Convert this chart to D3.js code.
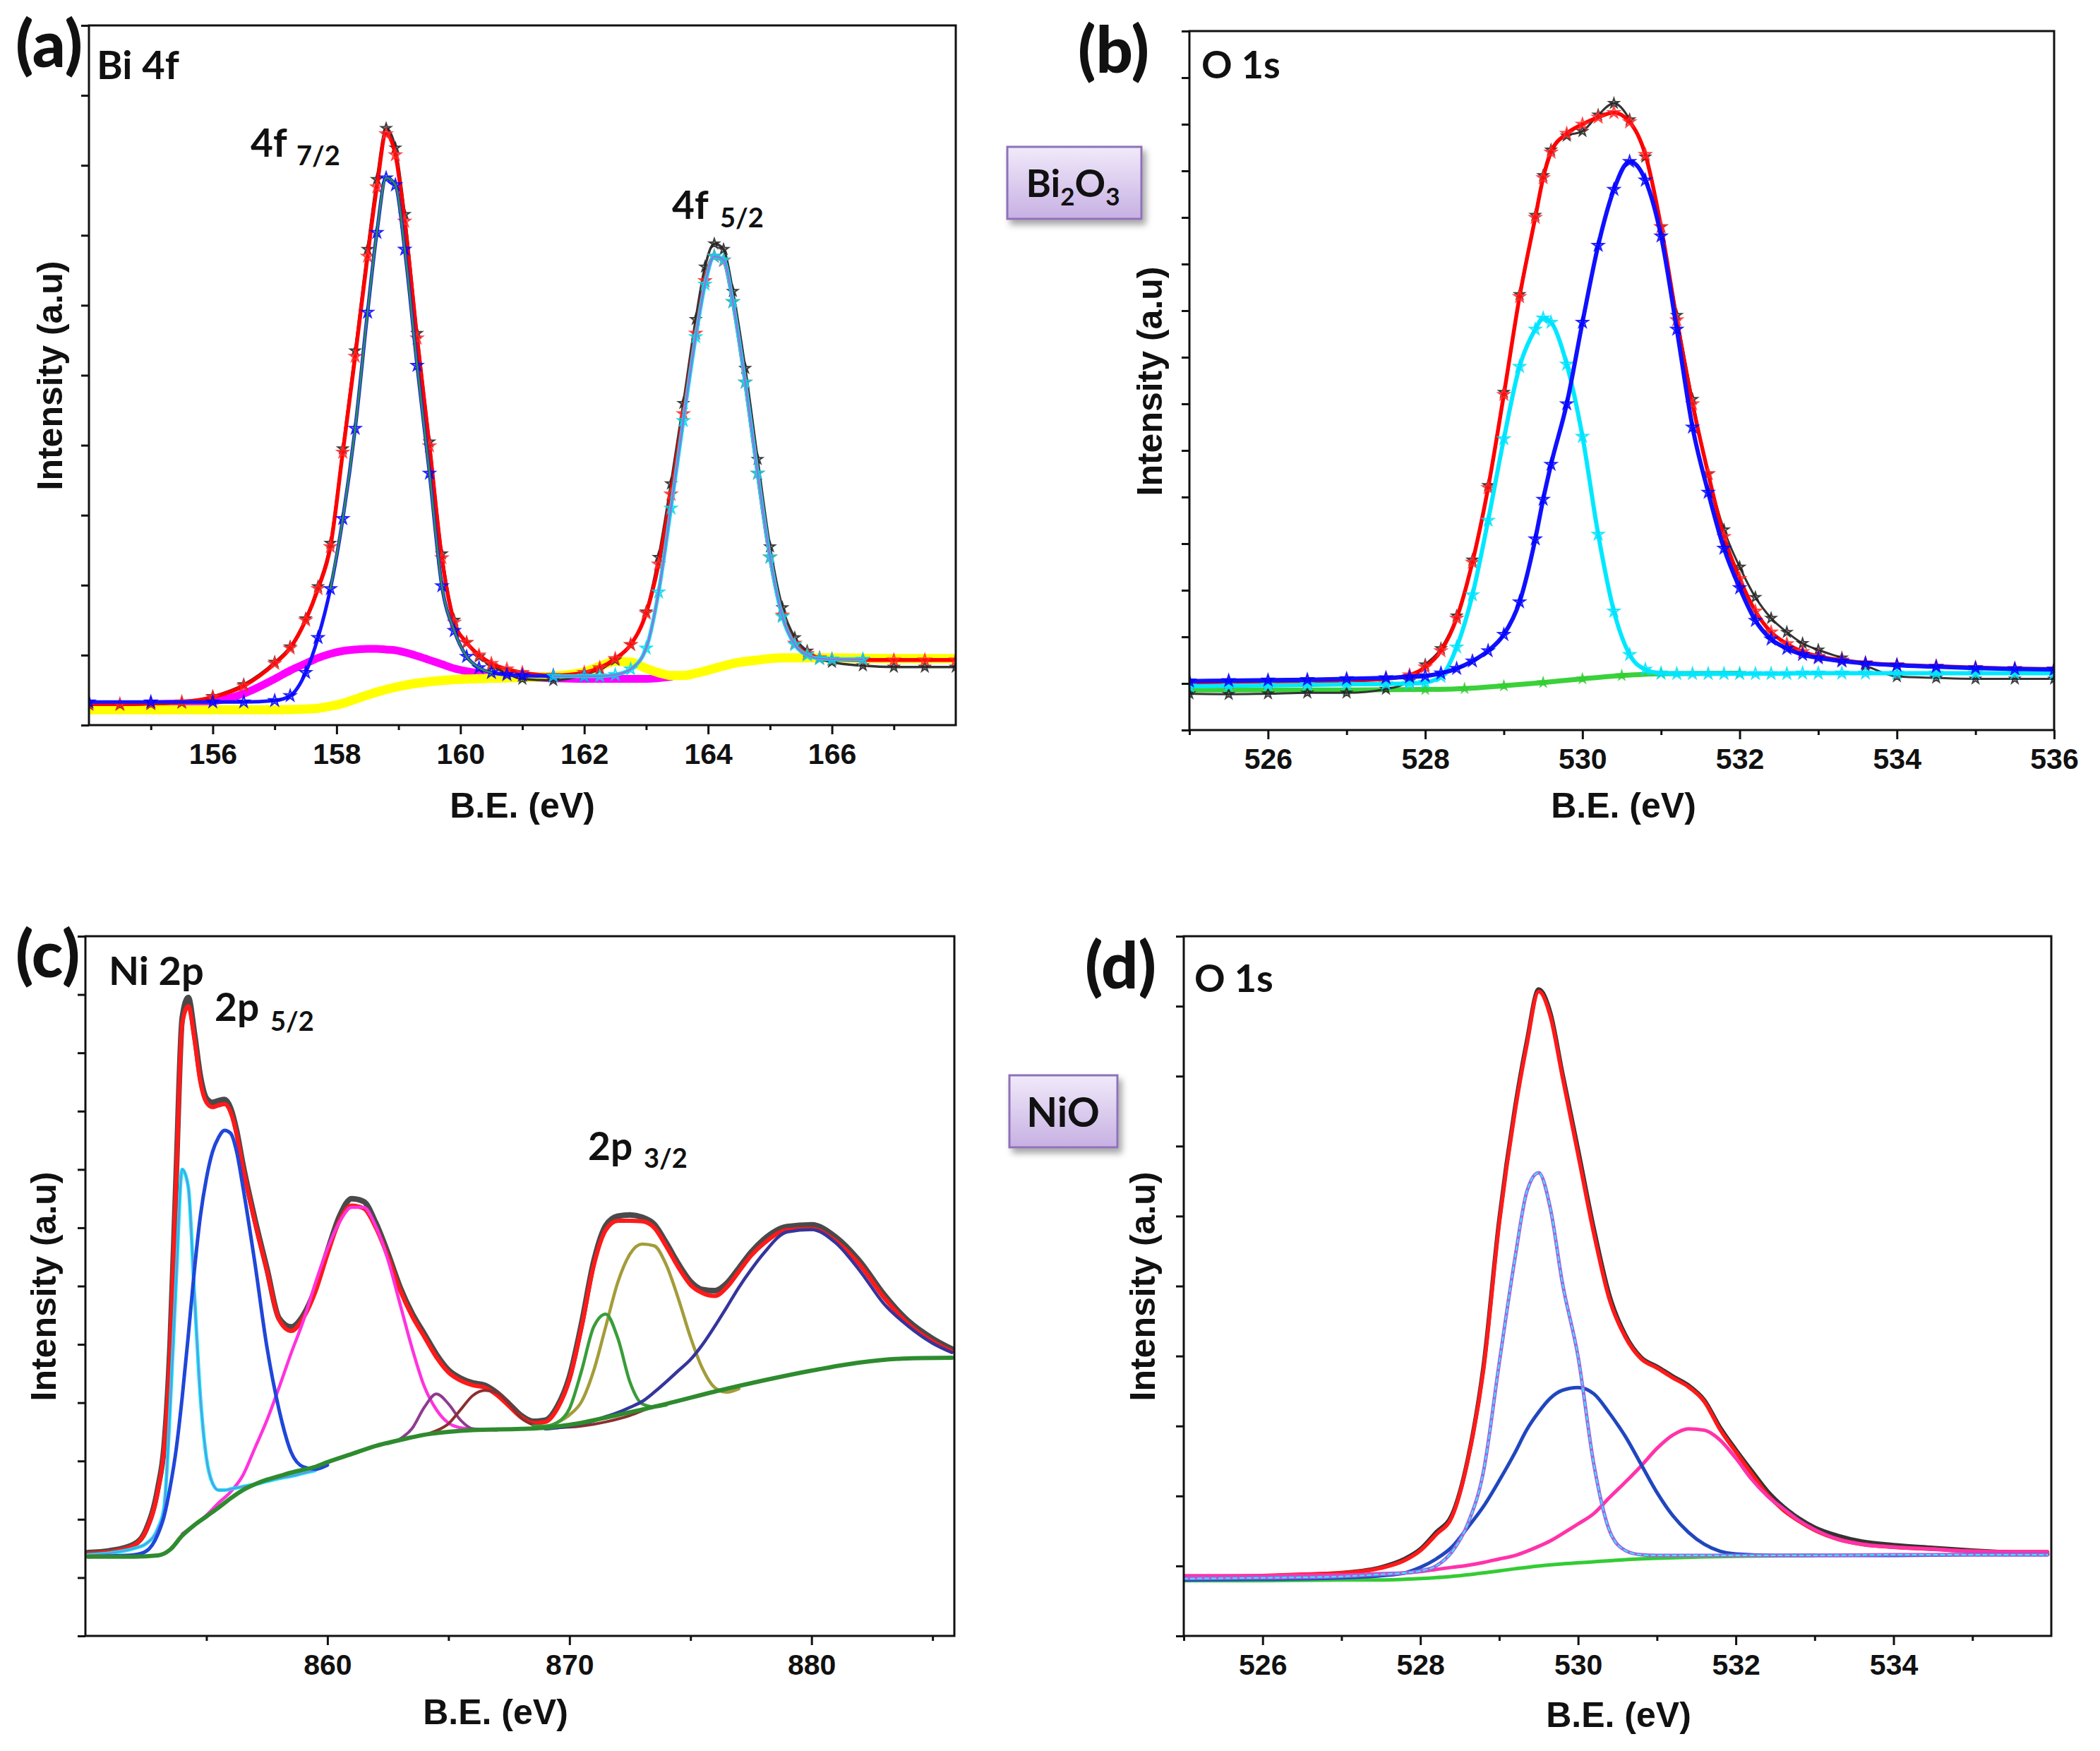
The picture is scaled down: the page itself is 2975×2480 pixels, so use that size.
<!DOCTYPE html>
<html><head><meta charset="utf-8">
<script src="https://cdn.jsdelivr.net/npm/d3@7"></script>
<style>body{margin:0;background:#fff}</style>
</head><body>
<svg id="chart" width="2975" height="2480"></svg>
<script>
// ---------------- DATA ----------------
// (a) Bi 4f
const aX = [154,154.5,155,155.5,156,156.5,157,157.25,157.5,157.7,
157.9,158.1,158.3,158.5,158.65,158.8,158.95,159.1,159.3,159.5,
159.7,159.9,160.1,160.3,160.5,160.75,161,161.5,162,162.25,
162.5,162.75,163,163.2,163.4,163.6,163.8,163.95,164.1,164.25,
164.4,164.6,164.8,165,165.2,165.4,165.6,165.8,166,166.5,
167,167.5,168];
const aData = [0.29,0.29,0.3,0.32,0.41,0.58,0.9,1.12,1.52,1.98,
2.6,3.95,5.35,6.8,7.8,8.53,8.25,7.3,5.6,4.05,
2.45,1.5,1.18,0.98,0.85,0.74,0.66,0.64,0.72,0.8,
0.93,1.15,1.62,2.4,3.45,4.6,5.8,6.55,6.88,6.8,
6.2,5.1,3.8,2.55,1.68,1.25,1.06,0.95,0.9,0.85,
0.83,0.83,0.83];
const aFit = [0.3,0.3,0.31,0.33,0.4,0.56,0.88,1.1,1.5,1.95,
2.55,3.9,5.27,6.7,7.69,8.45,8.15,7.2,5.53,3.99,
2.39,1.47,1.18,1.0,0.88,0.8,0.75,0.71,0.75,0.82,
0.95,1.15,1.6,2.3,3.3,4.45,5.6,6.35,6.7,6.64,
6.05,4.9,3.6,2.4,1.57,1.17,1.02,0.96,0.94,0.93,
0.93,0.93,0.93];
const aPeak72 = [[154,0.33],[155,0.33],[156,0.33],[156.5,0.33],[157,0.35],[157.25,0.42],[157.5,0.75],[157.7,1.25],[157.9,1.95],[158.1,2.95],[158.3,4.24],[158.5,5.9],[158.65,7.04],[158.8,7.82],[158.95,7.72],[159.1,6.8],[159.3,5.14],[159.5,3.6],[159.7,1.99],[159.9,1.35],[160.1,0.98],[160.3,0.82],[160.5,0.75],[160.75,0.72],[161,0.71],[161.5,0.7],[162,0.7]];
const aPeak52 = [[161.5,0.7],[162,0.7],[162.25,0.7],[162.5,0.72],[162.75,0.8],[163,1.1],[163.2,1.9],[163.4,3.1],[163.6,4.35],[163.8,5.55],[163.95,6.3],[164.1,6.7],[164.25,6.65],[164.4,6.05],[164.6,4.9],[164.8,3.6],[165,2.4],[165.2,1.55],[165.4,1.15],[165.6,1.0],[165.8,0.95],[166,0.94],[166.5,0.94]];
const aHump = [[154,0.29],[154.5,0.29],[155,0.3],[155.5,0.31],[156,0.34],[156.5,0.45],[157,0.66],[157.25,0.78],[157.5,0.88],[157.7,0.96],[157.9,1.02],[158.1,1.06],[158.3,1.08],[158.5,1.09],[158.65,1.09],[158.8,1.08],[158.95,1.07],[159.1,1.04],[159.3,0.99],[159.5,0.93],[159.7,0.87],[159.9,0.81],[160.1,0.77],[160.3,0.74],[160.5,0.72],[160.75,0.7],[161,0.69],[161.5,0.67],[162,0.66],[162.5,0.66],[163,0.66],[163.4,0.69]];
const aBackground = [[154,0.22],[155,0.22],[156,0.22],[157,0.22],[157.5,0.23],[157.7,0.24],[157.9,0.27],[158.1,0.31],[158.3,0.37],[158.5,0.43],[158.8,0.51],[159.1,0.57],[159.5,0.62],[159.9,0.65],[160.5,0.67],[161,0.68],[161.5,0.7],[162,0.76],[162.25,0.84],[162.5,0.91],[162.75,0.9],[163,0.81],[163.2,0.75],[163.4,0.71],[163.6,0.71],[163.8,0.74],[164.1,0.81],[164.4,0.88],[164.8,0.93],[165.2,0.96],[166,0.96],[167,0.95],[168,0.95]];
const aMajorTicks = [156,158,160,162,164,166];
const aMinorTicks = [155,157,159,161,163,165,167];

// (b) O 1s, Bi2O3
const bX = [525,525.5,526,526.5,527,527.5,527.8,528,528.2,528.4,
528.6,528.8,529,529.2,529.4,529.5,529.6,529.8,530,530.2,
530.4,530.6,530.8,531,531.2,531.4,531.6,531.8,532,532.2,
532.4,532.6,532.8,533,533.3,533.6,534,534.5,535,535.5,
536];
const bData = [0.78,0.77,0.78,0.8,0.8,0.88,1.05,1.4,1.75,2.45,
3.65,5.25,7.25,9.35,11.05,11.9,12.45,12.75,12.85,13.2,
13.45,13.1,12.3,10.8,8.9,7.1,5.5,4.3,3.5,2.85,
2.4,2.1,1.86,1.72,1.55,1.38,1.15,1.12,1.1,1.1,
1.1];
const bFit = [1.02,1.02,1.03,1.04,1.06,1.1,1.18,1.35,1.7,2.4,
3.6,5.2,7.2,9.3,11.0,11.85,12.4,12.8,13.0,13.15,
13.25,13.05,12.35,10.8,8.8,7.0,5.5,4.15,3.25,2.55,
2.1,1.85,1.68,1.58,1.5,1.44,1.4,1.37,1.34,1.32,
1.31];
const bPeakHigh = [1.05,1.06,1.07,1.08,1.1,1.12,1.14,1.16,1.22,1.32,
1.48,1.7,2.05,2.75,4.1,4.95,5.7,7.0,8.75,10.4,
11.6,12.2,11.8,10.6,8.6,6.5,5.1,3.9,3.05,2.35,
1.95,1.75,1.62,1.55,1.48,1.43,1.39,1.36,1.33,1.31,
1.3];
const bPeakLow = [0.94,0.95,0.96,0.97,0.98,0.99,1.0,1.02,1.15,1.78,
2.9,4.5,6.25,7.8,8.6,8.84,8.75,7.85,6.3,4.2,
2.55,1.62,1.3,1.22,1.21,1.21,1.21,1.21,1.21,1.21,
1.21,1.21,1.22,1.22,1.22,1.22,1.22,1.22,1.22,1.22,
1.22];
const bBackground = [[525,0.86],[527,0.86],[528,0.87],[528.5,0.89],[529,0.95],[529.5,1.02],[530,1.1],[530.5,1.17],[531,1.21],[532,1.22]];
const bMajorTicks = [526,528,530,532,534,536];
const bMinorTicks = [525,527,529,531,533,535];

// (c) Ni 2p
const cData = [[850.1,1.43],[851,1.46],[852,1.57],[852.5,1.82],[853,2.55],[853.25,3.25],[853.5,5.0],[853.75,7.9],[854,10.6],[854.25,10.95],[854.5,10.35],[854.75,9.6],[855,9.22],[855.25,9.15],[855.5,9.18],[855.75,9.2],[856,9.05],[856.25,8.66],[856.5,8.1],[857,7.15],[857.5,6.3],[858,5.45],[858.5,5.3],[859,5.5],[859.5,5.95],[860,6.6],[860.5,7.2],[861,7.5],[861.5,7.45],[862,7.08],[862.5,6.56],[863,5.98],[863.5,5.53],[864,5.18],[864.5,4.83],[865,4.56],[865.5,4.42],[866,4.34],[866.5,4.3],[867,4.17],[867.5,3.98],[868,3.78],[868.5,3.68],[869,3.7],[869.5,3.94],[870,4.45],[870.5,5.36],[871,6.42],[871.5,7.04],[872,7.2],[872.5,7.22],[873,7.18],[873.5,7.06],[874,6.74],[874.5,6.38],[875,6.08],[875.5,5.94],[876,5.92],[876.5,6.05],[877,6.31],[877.5,6.58],[878,6.79],[879,7.02],[880,7.05],[881,6.84],[882,6.42],[883,5.85],[884,5.4],[885,5.1],[885.8,4.92]];
const cFit = [[850.1,1.41],[851,1.44],[852,1.55],[852.5,1.8],[853,2.5],[853.25,3.2],[853.5,4.9],[853.75,7.8],[854,10.5],[854.25,10.8],[854.5,10.25],[854.75,9.5],[855,9.15],[855.25,9.07],[855.5,9.1],[855.75,9.12],[856,8.98],[856.25,8.6],[856.5,8.05],[857,7.1],[857.5,6.26],[858,5.42],[858.5,5.23],[859,5.45],[859.5,5.9],[860,6.55],[860.5,7.12],[861,7.38],[861.5,7.33],[862,7.0],[862.5,6.5],[863,5.93],[863.5,5.48],[864,5.13],[864.5,4.78],[865,4.52],[865.5,4.38],[866,4.3],[866.5,4.26],[867,4.13],[867.5,3.94],[868,3.75],[868.5,3.65],[869,3.67],[869.5,3.9],[870,4.4],[870.5,5.3],[871,6.35],[871.5,6.96],[872,7.12],[872.5,7.12],[873,7.11],[873.5,7.0],[874,6.68],[874.5,6.32],[875,6.02],[875.5,5.88],[876,5.83],[876.5,5.98],[877,6.25],[877.5,6.52],[878,6.72],[879,6.96],[880,6.98],[881,6.77],[882,6.36],[883,5.8],[884,5.35],[885,5.05],[885.8,4.88]];
const cPeak1 = [[850.1,1.39],[851,1.42],[852,1.5],[852.5,1.58],[853,1.85],[853.25,2.2],[853.5,3.9],[853.75,6.1],[854,8.0],[854.25,7.7],[854.5,5.88],[854.75,4.1],[855,3.05],[855.25,2.62],[855.5,2.5],[855.75,2.5],[856,2.52],[856.5,2.56],[857,2.6],[857.5,2.65],[858,2.7],[858.5,2.74],[859,2.79],[859.5,2.84]];
const cPeak2 = [[850.1,1.36],[851,1.37],[852,1.39],[852.5,1.45],[853,1.75],[853.25,2.05],[853.5,2.55],[853.75,3.2],[854,4.1],[854.25,5.15],[854.5,6.26],[854.75,7.2],[855,7.85],[855.25,8.3],[855.5,8.55],[855.75,8.67],[856,8.62],[856.25,8.3],[856.5,7.72],[857,6.4],[857.5,4.95],[858,3.88],[858.5,3.15],[859,2.9],[859.5,2.86],[860,2.93]];
const cSat1 = [[854,1.75],[854.5,1.9],[855,2.07],[855.5,2.28],[856,2.47],[856.5,2.75],[857,3.22],[857.5,3.7],[858,4.26],[858.5,4.85],[859,5.4],[859.5,6.05],[860,6.64],[860.5,7.1],[861,7.35],[861.5,7.35],[862,7.02],[862.5,6.45],[863,5.69],[863.5,4.93],[864,4.28],[864.5,3.88],[865,3.65],[865.5,3.57],[866,3.55],[866.5,3.54],[867,3.53]];
const cSat2 = [[862.5,3.3],[863,3.38],[863.5,3.56],[864,3.92],[864.5,4.15],[865,3.98],[865.5,3.7],[866,3.55],[866.5,3.53]];
const cSat3 = [[864,3.45],[864.5,3.52],[865,3.64],[865.5,3.88],[866,4.12],[866.5,4.21],[867,4.17],[867.5,3.98],[868,3.74],[868.5,3.62],[869,3.57],[869.5,3.57],[870,3.58],[870.5,3.6],[871,3.63],[871.5,3.67],[872,3.72],[872.5,3.78],[873,3.86],[873.5,3.94]];
const cPeak3 = [[868.5,3.6],[869,3.6],[869.5,3.66],[870,3.9],[870.5,4.55],[871,5.3],[871.5,5.52],[872,5.1],[872.5,4.35],[873,3.98],[873.5,3.93],[874,3.96]];
const cPeak4 = [[869,3.57],[869.5,3.66],[870,3.79],[870.5,4.02],[871,4.55],[871.5,5.31],[872,6.07],[872.5,6.55],[873,6.72],[873.5,6.69],[874,6.36],[874.5,5.78],[875,5.12],[875.5,4.58],[876,4.26],[876.5,4.18],[877,4.24]];
const cSat4 = [[869,3.55],[869.5,3.57],[870,3.6],[870.5,3.64],[871,3.69],[871.5,3.76],[872,3.83],[872.5,3.92],[873,4.02],[873.5,4.18],[874,4.36],[874.5,4.55],[875,4.74],[875.5,5.0],[876,5.31],[876.5,5.64],[877,5.98],[877.5,6.28],[878,6.55],[879,6.93],[880,6.97],[881,6.74],[882,6.26],[883,5.69],[884,5.31],[885,5.02],[885.8,4.86]];
const cBackground = [[850.1,1.36],[852,1.36],[853,1.38],[853.5,1.48],[854,1.72],[854.5,1.9],[855,2.05],[855.5,2.2],[856,2.36],[856.5,2.5],[857,2.6],[857.5,2.68],[858,2.74],[858.5,2.8],[859,2.85],[859.5,2.9],[860,2.98],[861,3.12],[862,3.26],[863,3.36],[864,3.45],[865,3.5],[866,3.53],[868,3.55],[869,3.57],[870,3.62],[872,3.79],[874,3.98],[876,4.19],[878,4.38],[880,4.55],[882,4.69],[884,4.76],[885.8,4.77]];
const cMajorTicks = [860,870,880];
const cMinorTicks = [855,865,875,885];

// (d) O 1s, NiO
const dData = [[525,0.83],[525.5,0.84],[526,0.85],[526.5,0.87],[527,0.9],[527.5,0.98],[527.8,1.1],[528,1.24],[528.2,1.48],[528.4,1.73],[528.6,2.52],[528.8,3.85],[529,5.95],[529.2,7.55],[529.35,8.5],[529.5,9.24],[529.65,8.9],[529.8,8.05],[530,6.95],[530.2,5.82],[530.4,4.86],[530.6,4.3],[530.8,3.98],[531,3.85],[531.2,3.71],[531.4,3.58],[531.6,3.37],[531.8,2.98],[532,2.66],[532.2,2.36],[532.4,2.07],[532.6,1.85],[532.8,1.68],[533,1.55],[533.3,1.43],[533.6,1.35],[534,1.3],[534.5,1.26],[535,1.22],[535.5,1.19],[535.95,1.17]];
const dFit = [[525,0.84],[525.5,0.85],[526,0.86],[526.5,0.88],[527,0.9],[527.5,0.97],[527.8,1.08],[528,1.22],[528.2,1.45],[528.4,1.7],[528.6,2.5],[528.8,3.8],[529,5.9],[529.2,7.5],[529.35,8.45],[529.5,9.21],[529.65,8.85],[529.8,8.0],[530,6.88],[530.2,5.75],[530.4,4.8],[530.6,4.27],[530.8,3.96],[531,3.83],[531.2,3.69],[531.4,3.56],[531.6,3.35],[531.8,2.95],[532,2.63],[532.2,2.32],[532.4,2.02],[532.6,1.8],[532.8,1.64],[533,1.51],[533.3,1.38],[533.6,1.31],[534,1.27],[534.5,1.24],[535,1.21],[535.5,1.2],[535.95,1.2]];
const dPeak1 = [[525,0.82],[526,0.83],[527,0.85],[527.5,0.88],[527.8,0.9],[528,0.93],[528.2,1.0],[528.4,1.2],[528.6,1.6],[528.8,2.35],[529,3.9],[529.2,5.4],[529.35,6.35],[529.5,6.62],[529.65,6.1],[529.8,5.05],[530,3.99],[530.2,2.45],[530.4,1.5],[530.6,1.22],[530.8,1.16],[531,1.15],[532,1.15],[533,1.15],[534,1.16],[535,1.16],[535.95,1.16]];
const dPeak2 = [[525,0.8],[526,0.81],[527,0.83],[527.5,0.86],[527.8,0.9],[528,0.98],[528.2,1.1],[528.4,1.27],[528.6,1.55],[528.8,1.85],[529,2.22],[529.2,2.62],[529.35,2.95],[529.5,3.2],[529.65,3.4],[529.8,3.51],[530,3.55],[530.2,3.46],[530.4,3.18],[530.6,2.85],[530.8,2.45],[531,2.05],[531.2,1.72],[531.4,1.48],[531.6,1.31],[531.8,1.21],[532,1.17],[532.5,1.15],[533,1.15],[534,1.15],[535,1.16],[535.95,1.16]];
const dPeak3 = [[525,0.86],[525.5,0.86],[526,0.86],[526.5,0.87],[527,0.87],[527.5,0.89],[527.8,0.9],[528,0.92],[528.2,0.95],[528.4,0.98],[528.6,1.01],[528.8,1.05],[529,1.1],[529.2,1.15],[529.35,1.21],[529.5,1.28],[529.65,1.36],[529.8,1.46],[530,1.6],[530.2,1.75],[530.4,1.98],[530.6,2.2],[530.8,2.43],[531,2.68],[531.2,2.87],[531.4,2.96],[531.6,2.94],[531.8,2.8],[532,2.54],[532.2,2.24],[532.4,2.0],[532.6,1.82],[532.8,1.65],[533,1.52],[533.3,1.38],[533.6,1.31],[534,1.27],[534.5,1.24],[535,1.21],[535.5,1.2],[535.95,1.2]];
const dBackground = [[525,0.79],[526,0.79],[527,0.8],[527.5,0.8],[528,0.82],[528.4,0.85],[528.8,0.9],[529.2,0.96],[529.5,1.0],[529.8,1.03],[530.2,1.06],[530.6,1.09],[531,1.11],[531.6,1.13],[532.2,1.14],[533,1.15]];
const dMajorTicks = [526,528,530,532,534];
const dMinorTicks = [525,527,529,531,533,535];

// ---------------- DRAWING ----------------
const zip = (xs, ys) => xs.map((x, i) => [x, ys[i]]);
const svg = d3.select('#chart');
svg.append('rect').attr('width', 2975).attr('height', 2480).attr('fill', '#fff');
const defs = svg.append('defs');
const grad = defs.append('linearGradient').attr('id', 'boxGrad').attr('x1', 0).attr('y1', 0).attr('x2', 0).attr('y2', 1);
grad.append('stop').attr('offset', '0%').attr('stop-color', '#f1eafa');
grad.append('stop').attr('offset', '100%').attr('stop-color', '#c7b0e3');
const sh = defs.append('filter').attr('id', 'shadow').attr('x', '-20%').attr('y', '-20%').attr('width', '150%').attr('height', '160%');
sh.append('feDropShadow').attr('dx', 5).attr('dy', 7).attr('stdDeviation', 5).attr('flood-color', '#000').attr('flood-opacity', 0.35);

const LABEL_FONT = "Lato, 'Open Sans', 'DejaVu Sans', sans-serif";
const AXIS_FONT = "'Liberation Sans', Arial, sans-serif";
const INK = '#111';

const panels = [
  { id: 'a', box: [126, 36, 1354, 1027], xd: [154, 168], yd: [0, 10], major: aMajorTicks, minor: aMinorTicks,
    series: [
      { data: aHump, color: '#ff00ff', w: 11 },
      { data: aBackground, color: '#ffff00', w: 13 },
      { data: zip(aX, aData), color: '#333', w: 3.5, mk: '#222', ms: 60 },
      { data: zip(aX, aFit), color: '#ff0000', w: 5.5, mk: '#ff2a2a', ms: 80 },
      { data: aPeak72, color: '#1414ff', w: 5, mk: '#0000ff', ms: 80 },
      { data: aPeak72.filter(d => d[0] >= 157.9 && d[0] <= 160.6), color: '#2e8b57', w: 3 },
      { data: aPeak52, color: '#00e0f8', w: 5.5, mk: '#00d8f0', ms: 80 },
      { data: aPeak52, color: '#9b6fd6', w: 2.5 }
    ] },
  { id: 'b', box: [1685, 44, 2910, 1034], xd: [525, 536], yd: [0, 15], major: bMajorTicks, minor: bMinorTicks,
    series: [
      { data: bBackground, color: '#3ad13a', w: 7, mk: '#33cc33', ms: 50 },
      { data: zip(bX, bData), color: '#333', w: 3, mk: '#222', ms: 60 },
      { data: zip(bX, bFit), color: '#ff0000', w: 5.5, mk: '#ff2a2a', ms: 80 },
      { data: zip(bX, bPeakLow), color: '#00e8ff', w: 6, mk: '#00e0ff', ms: 80 },
      { data: zip(bX, bPeakHigh), color: '#1010ff', w: 6, mk: '#0000ff', ms: 80 }
    ] },
  { id: 'c', box: [121, 1326, 1352, 2317], xd: [850, 885.9], yd: [0, 12], major: cMajorTicks, minor: cMinorTicks,
    series: [
      { data: cData, color: '#4a4a4a', w: 8 },
      { data: cFit, color: '#ff1a1a', w: 6 },
      { data: cSat1, color: '#ff33dd', w: 4.5 },
      { data: cSat2, color: '#8e3b8e', w: 4 },
      { data: cSat3, color: '#8b2f2f', w: 4 },
      { data: cPeak4, color: '#a39c3a', w: 4.5 },
      { data: cPeak3, color: '#3a9c3a', w: 4.5 },
      { data: cSat4, color: '#35359c', w: 4.5 },
      { data: cPeak1, color: '#00e5ff', w: 5 },
      { data: cPeak1, color: '#a070d0', w: 1.5 },
      { data: cPeak2, color: '#1f3cff', w: 5 },
      { data: cPeak2, color: '#1c6b5a', w: 1.5, dash: '4,4' },
      { data: cBackground, color: '#2e8b2e', w: 6 }
    ] },
  { id: 'd', box: [1677, 1326, 2906, 2317], xd: [525, 536], yd: [0, 10], major: dMajorTicks, minor: dMinorTicks,
    series: [
      { data: dData, color: '#333', w: 6 },
      { data: dFit, color: '#ff1a1a', w: 5.5 },
      { data: dBackground, color: '#33cc33', w: 5 },
      { data: dPeak3, color: '#ff33aa', w: 5 },
      { data: dPeak2, color: '#2244d4', w: 5 },
      { data: dPeak2, color: '#1b5a4a', w: 1.2, dash: '3,4' },
      { data: dPeak1, color: '#a066e0', w: 5 },
      { data: dPeak1, color: '#33eeff', w: 2, dash: '5,5' }
    ] }
];

panels.forEach(p => {
  const [L, T, R, B] = p.box;
  const x = d3.scaleLinear().domain(p.xd).range([L, R]);
  const y = d3.scaleLinear().domain(p.yd).range([B, T]);
  defs.append('clipPath').attr('id', 'clip-' + p.id)
    .append('rect').attr('x', L).attr('y', T).attr('width', R - L).attr('height', B - T);
  const g = svg.append('g');
  const plot = g.append('g').attr('clip-path', `url(#clip-${p.id})`);
  const line = d3.line().defined(d => d[1] != null).x(d => x(d[0])).y(d => y(d[1])).curve(d3.curveMonotoneX);
  p.series.forEach(s => {
    plot.append('path').attr('d', line(s.data)).attr('fill', 'none')
      .attr('stroke', s.color).attr('stroke-width', s.w)
      .attr('stroke-linejoin', 'round').attr('stroke-linecap', 'round')
      .attr('stroke-dasharray', s.dash || null);
    if (s.mk) {
      const star = d3.symbol(d3.symbolStar, s.ms)();
      plot.append('g').selectAll('path').data(s.data.filter(d => d[1] != null)).join('path')
        .attr('transform', d => `translate(${x(d[0])},${y(d[1])})`)
        .attr('d', star).attr('fill', s.mk).attr('fill-opacity', 0.25)
        .attr('stroke', s.mk).attr('stroke-width', 2).attr('stroke-opacity', 0.85);
    }
  });
  // axes
  const gx = g.append('g').attr('transform', `translate(0,${B})`)
    .call(d3.axisBottom(x).tickValues(p.major).tickSize(13).tickPadding(13).tickFormat(d3.format('d')));
  const gxm = g.append('g').attr('transform', `translate(0,${B})`)
    .call(d3.axisBottom(x).tickValues(p.minor).tickSize(7).tickFormat(''));
  const nY = p.yd[1];
  const gy = g.append('g').attr('transform', `translate(${L},0)`)
    .call(d3.axisLeft(y).tickValues(d3.range(0, nY + 0.001, 1)).tickSize(11).tickFormat(''));
  [gx, gxm, gy].forEach(a => {
    a.select('.domain').remove();
    a.selectAll('line').attr('stroke', INK).attr('stroke-width', 3);
  });
  gx.selectAll('text').attr('font-family', AXIS_FONT).attr('font-weight', 'bold')
    .attr('font-size', 41).attr('fill', INK);
  g.append('rect').attr('x', L).attr('y', T).attr('width', R - L).attr('height', B - T)
    .attr('fill', 'none').attr('stroke', INK).attr('stroke-width', 3);
});

// ---------------- TEXT ----------------
function txt(x, y, s, size, font, opts = {}) {
  return svg.append('text').attr('x', x).attr('y', y).text(s)
    .attr('font-family', font).attr('font-weight', opts.weight || 'bold').attr('font-size', size)
    .attr('fill', INK).attr('text-anchor', opts.anchor || 'start');
}
// panel letters
txt(22, 95, '(a)', 92, LABEL_FONT, { weight: 900 });
txt(1527, 103, '(b)', 92, LABEL_FONT, { weight: 900 });
txt(22, 1384, '(c)', 92, LABEL_FONT, { weight: 900 });
txt(1537, 1400, '(d)', 92, LABEL_FONT, { weight: 900 });
// inner titles
txt(137, 112, 'Bi 4f', 56, LABEL_FONT);
txt(1702, 111, 'O 1s', 54, LABEL_FONT);
txt(154, 1395, 'Ni 2p', 56, LABEL_FONT);
txt(1692, 1405, 'O 1s', 54, LABEL_FONT);
// peak labels
txt(355, 222, '4f', 55, LABEL_FONT); txt(420, 234, '7/2', 38, LABEL_FONT);
txt(952, 310, '4f', 55, LABEL_FONT); txt(1020, 322, '5/2', 38, LABEL_FONT);
txt(304, 1446, '2p', 55, LABEL_FONT); txt(383, 1460, '5/2', 38, LABEL_FONT);
txt(833, 1643, '2p', 55, LABEL_FONT); txt(912, 1654, '3/2', 38, LABEL_FONT);
// axis titles
[[740, 1158], [2300, 1158], [702, 2442], [2293, 2446]].forEach(([cx, by]) =>
  txt(cx, by, 'B.E. (eV)', 50, AXIS_FONT, { anchor: 'middle' }));
[[88, 532], [1646, 540], [79, 1822], [1636, 1822]].forEach(([bx, cy]) =>
  txt(0, 0, 'Intensity (a.u)', 50, AXIS_FONT, { anchor: 'middle' })
    .attr('transform', `translate(${bx},${cy}) rotate(-90)`));
// sample boxes
function sampleBox(x0, y0, w, h) {
  svg.append('rect').attr('x', x0).attr('y', y0).attr('width', w).attr('height', h)
    .attr('fill', 'url(#boxGrad)').attr('stroke', '#8e72b8').attr('stroke-width', 3)
    .attr('filter', 'url(#shadow)');
}
sampleBox(1427, 208, 190, 102);
const t1 = svg.append('text').attr('x', 1520).attr('y', 279).attr('text-anchor', 'middle')
  .attr('font-family', LABEL_FONT).attr('font-weight', 'bold').attr('font-size', 54).attr('fill', INK);
t1.append('tspan').text('Bi');
t1.append('tspan').attr('dy', 12).attr('font-size', 35).text('2');
t1.append('tspan').attr('dy', -12).text('O');
t1.append('tspan').attr('dy', 12).attr('font-size', 35).text('3');
sampleBox(1430, 1523, 153, 102);
txt(1506, 1596, 'NiO', 57, LABEL_FONT, { anchor: 'middle' });
</script>
</body></html>
